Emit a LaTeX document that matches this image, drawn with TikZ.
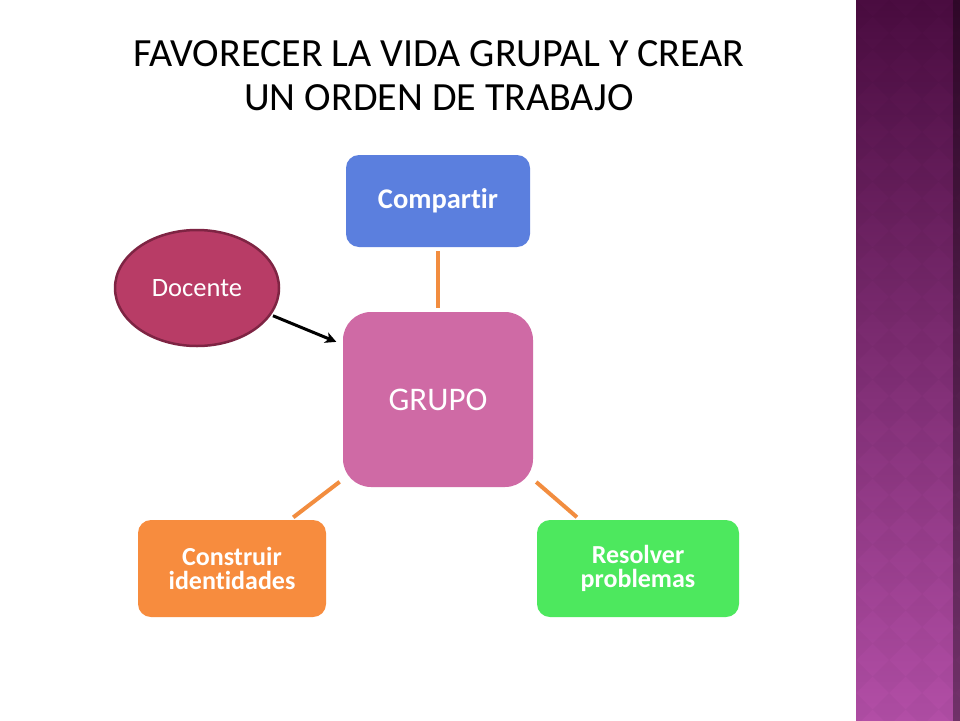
\documentclass[tikz,border=0pt]{standalone}
\usepackage{fontspec}
\setmainfont{Carlito}[Ligatures=NoCommon]
\usetikzlibrary{shapes,arrows.meta}
\definecolor{azulcaja}{HTML}{5B7FDE}
\definecolor{rosacaja}{HTML}{CF6AA5}
\definecolor{naranjacaja}{HTML}{F78C3E}
\definecolor{verdecaja}{HTML}{4DE85E}
\definecolor{docentefill}{HTML}{B83C66}
\definecolor{docenteborde}{HTML}{7E2443}
\definecolor{enlacecolor}{HTML}{F28D3F}
\definecolor{barratop}{HTML}{4A0C40}
\definecolor{barrabot}{HTML}{B24EA6}
\newcommand{\cajatexto}{\fontsize{26}{23.5}\selectfont\bfseries}

\tikzset{
  caja/.style={rounded corners=13pt, text=white, align=center, inner sep=0pt},
  enlace/.style={draw=enlacecolor, line width=4pt, shorten <=4pt, shorten >=4pt},
}

\begin{document}
\begin{tikzpicture}[x=1pt,y=-1pt]
  \useasboundingbox (0,0) rectangle (960,720);
  \fill[white] (0,0) rectangle (960,720);
  % barra lateral
  \shade[top color=barratop, bottom color=barrabot] (856,0) rectangle (960,720);
  \begin{scope}
    \clip (856,0) rectangle (960,720);
    \foreach \i in {0,...,3}
      \foreach \j in {0,...,22}
        \fill[black, opacity=0.025] ({856+\i*33},{\j*33}) -- ++(16.5,16.5) -- ++(-16.5,16.5) -- ++(-16.5,-16.5) -- cycle;
  \end{scope}
  \shade[left color=barrabot!0!black, right color=black, opacity=0.35] (953,0) rectangle (960,720);

  \node (titulo) at (439,76) [align=center, font=\fontsize{40}{44}\selectfont] {FAVORECER LA VIDA GRUPAL Y CREAR\\UN ORDEN DE TRABAJO};

  \node (grupo) at (438,399.5) [caja, fill=rosacaja, rounded corners=28pt, minimum width=190pt, minimum height=175pt, font=\fontsize{33}{36}\selectfont] {GRUPO};
  \node (compartir) at (438,201) [caja, fill=azulcaja, minimum width=184pt, minimum height=92pt, font={\fontsize{28.5}{30}\selectfont\bfseries}] {Compartir};
  \node (construir) at (232,568.5) [caja, fill=naranjacaja, minimum width=188pt, minimum height=97pt, font=\cajatexto] {Construir\\identidades};
  \node (resolver) at (638,568.5) [caja, fill=verdecaja, minimum width=202pt, minimum height=97pt, font=\cajatexto] {Resolver\\problemas};
  \node (docente) at (197,288) [ellipse, fill=docentefill, draw=docenteborde, line width=2.5pt, minimum width=164pt, minimum height=116pt, inner sep=0pt, text=white, font=\fontsize{26.5}{28}\selectfont] {Docente};

  \draw [enlace] (compartir) -- (grupo);
  \draw [enlace] (grupo.-140) -- (construir.40);
  \draw [enlace] (grupo.-40) -- (resolver.140);
  \draw [-{Stealth[length=11pt,width=11pt,inset=3pt]}, line width=3pt, shorten <=2pt, shorten >=7pt] (docente.-20) -- (grupo.150);
\end{tikzpicture}
\end{document}
